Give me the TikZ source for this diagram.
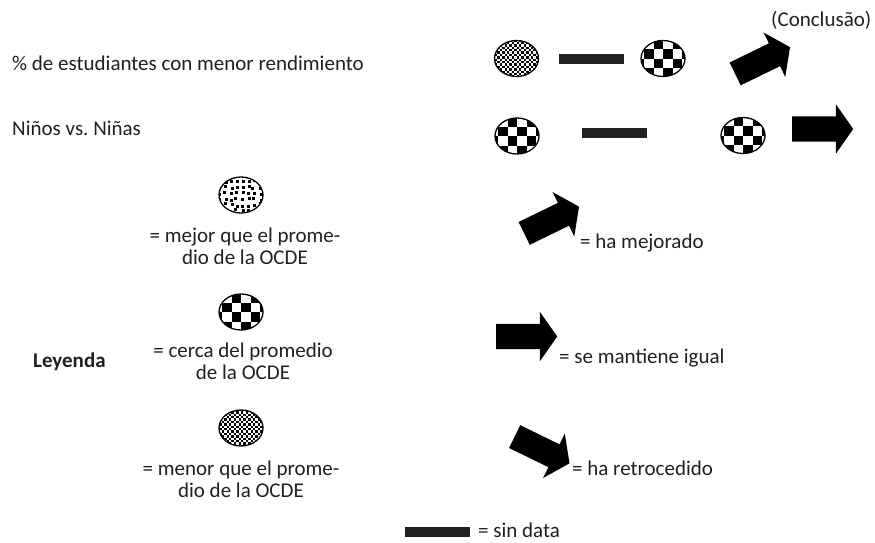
\documentclass[tikz,border=0pt]{standalone}
\usepackage{fontspec}
\setmainfont{Carlito}
\usetikzlibrary{shapes.geometric,shapes.arrows}
\definecolor{ink}{HTML}{231F20}

\begin{document}
\begin{tikzpicture}
        [x=1pt,y=-1pt,every node/.style={inner sep=0pt,text=ink,
        font=\fontsize{21}{22}\selectfont},
        oval/.style={shape=ellipse,draw=black,line width=1.3pt,
        minimum width=44pt,minimum height=36pt,fill=white},
        coarse/.style={oval,path picture={
          \foreach \i in {-3,...,2}{\foreach \j in {-2,...,1}{
            \ifodd\numexpr\i+\j+10\relax\else
            \fill[black] ([xshift=\i*9.5pt,yshift=\j*9.5pt]path picture bounding box.center)
              rectangle ++(9.5pt,9.5pt);
            \fi}}}},
        fine/.style={oval,path picture={
          \foreach \i in {-10,...,9}{\foreach \j in {-8,...,7}{
            \ifodd\numexpr\i+\j+20\relax\else
            \fill[black] ([xshift=\i*2.4pt,yshift=\j*2.4pt]path picture bounding box.center)
              rectangle ++(2.4pt,2.4pt);
            \fi}}}},
        dotty/.style={oval,path picture={
          \pgfmathsetseed{11}
          \foreach \i in {-4,...,3}{\foreach \j in {-3,...,2}{
            \pgfmathsetmacro\dx{\i*5.8+rand*1.6}
            \pgfmathsetmacro\dy{\j*5.8+rand*1.6}
            \fill[black] ([xshift=\dx pt,yshift=\dy pt]path picture bounding box.center)
              rectangle ++(3pt,3pt);
            }}}},
        nodata/.style={shape=rectangle,fill=ink,minimum width=65pt,minimum height=10pt},
        fat/.style={shape=single arrow,fill=black,inner ysep=12.5pt,inner xsep=0pt,
        single arrow head extend=12pt,single arrow tip angle=110,
        minimum height=61pt,anchor=tail}]
        \useasboundingbox (0,0) rectangle (875,542);
        %% rows
        \node[anchor=west] (pct) at (12,63) {\% de estudiantes con menor rendimiento};
        \node[anchor=west] (sex) at (12,128) {Niños vs.\ Niñas};
        \node[anchor=west] (concl) at (771,20) {(Conclusão)};
        \node[fine] (pctA) at (516.5,58.5) {};
        \node[nodata] (pctB) at (591.5,59) {};
        \node[coarse] (pctC) at (663,58.5) {};
        \node[fat,rotate=26] (pctD) at (735,74) {};
        \node[coarse] (sexA) at (517,136) {};
        \node[nodata] (sexB) at (614.5,133) {};
        \node[coarse] (sexC) at (743,135.5) {};
        \node[fat] (sexD) at (792,129) {};
        %% legend
        \node[anchor=west,font=\fontsize{21}{22}\selectfont\bfseries] (ley) at (33,362) {Leyenda};
        \node[dotty] (better) at (241,195) {};
        \node[align=center] (betterT) at (245,246.5) {= mejor que el prome-\\dio de la OCDE};
        \node[coarse] (near) at (241,312) {};
        \node[align=center] (nearT) at (243,361) {= cerca del promedio\\de la OCDE};
        \node[fine] (worse) at (241,428) {};
        \node[align=center] (worseT) at (241,479.5) {= menor que el prome-\\dio de la OCDE};
        \node[fat,rotate=26] (up) at (524,233.5) {};
        \node[anchor=west] (upT) at (580,243) {= ha mejorado};
        \node[fat] (same) at (496,336.5) {};
        \node[anchor=west] (sameT) at (559,358) {= se mantiene igual};
        \node[fat,rotate=-26] (down) at (514.5,436.5) {};
        \node[anchor=west] (downT) at (572,468) {= ha retrocedido};
        \node[nodata] (none) at (437.5,531.5) {};
        \node[anchor=west] (noneT) at (478,530.5) {= sin data};
\end{tikzpicture}
\end{document}
